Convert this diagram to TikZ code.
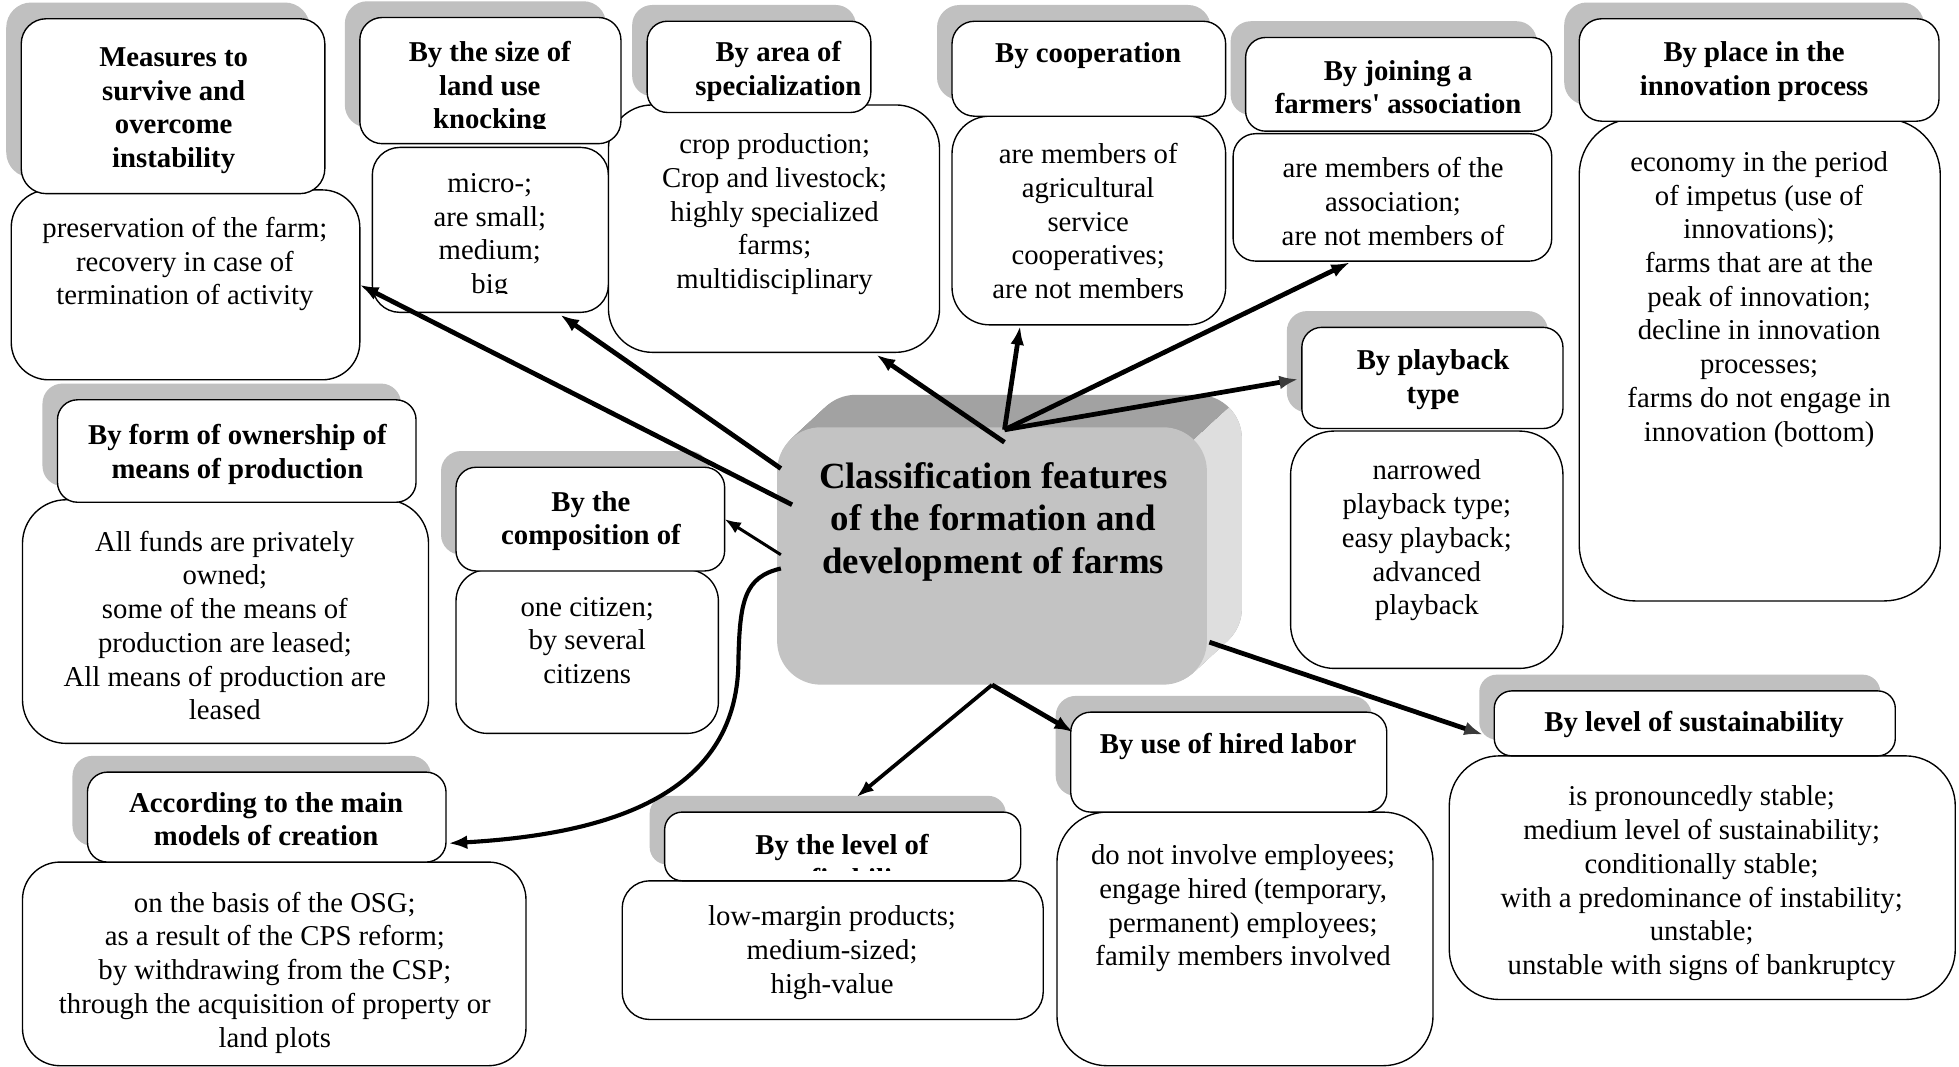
\documentclass[tikz,border=0pt]{standalone}
\usepackage{fontspec}
\setmainfont{Liberation Serif}
\usetikzlibrary{calc,arrows.meta}

\definecolor{shadegray}{HTML}{C0C0C0}
\definecolor{hubfront}{HTML}{C3C3C3}
\definecolor{hubtop}{HTML}{A2A2A2}
\definecolor{hubside}{HTML}{DEDEDE}
\definecolor{tipgray}{HTML}{3A3A3A}

\tikzset{
  card/.style={draw=black, fill=white, line width=1.1pt, inner sep=0pt, outer sep=0pt},
  headtxt/.style={anchor=north, inner sep=0pt, align=center, font=\bfseries\fontsize{23}{27}\selectfont},
  bodytxt/.style={anchor=north, inner sep=0pt, align=center, font=\fontsize{23}{27}\selectfont},
  titletxt/.style={anchor=north, inner sep=0pt, align=center, font=\bfseries\fontsize{29.5}{34}\selectfont},
  link/.style={line width=3.8pt, -{Latex[length=15pt,width=11pt]}},
  greylink/.style={line width=3.8pt, -{Latex[length=15pt,width=11pt,color=tipgray]}},
  curvelink/.style={line width=3.3pt, -{Latex[length=15pt,width=11pt]}},
  midlink/.style={line width=3pt, -{Latex[length=14pt,width=10pt]}},
  thinlink/.style={line width=2.4pt, -{Latex[length=13pt,width=10pt]}},
}

% rounded card: name, x1, y1, x2, y2, corner radius
\newcommand\cardbox[6]{%
  \node[card, rounded corners=#6pt, minimum width={(#4-#2)*1pt},
        minimum height={(#5-#3)*1pt}] (#1) at ({(#2+#4)/2},{(#3+#5)/2}) {};}
% grey offset shadow behind a heading card
\newcommand\cardshadow[5]{%
  \fill[shadegray, rounded corners=#5pt] ({#1-12},{#2-13}) rectangle ({#3-12},{#4-13});}

\begin{document}
\begin{tikzpicture}[x=1pt, y=-1pt]
\useasboundingbox (0,0) rectangle (1568,854);
\fill[white] (0,0) rectangle (1568,854);

% ---------- shadows of the heading cards ----------
\cardshadow{17}{15}{260}{155}{20}
\cardshadow{288}{14}{497}{115}{18}
\cardshadow{518}{17}{697}{90}{16}
\cardshadow{762}{17}{981}{93}{18}
\cardshadow{997}{30}{1242}{105}{16}
\cardshadow{1264}{15}{1552}{97}{18}
\cardshadow{1042}{262}{1251}{343}{16}
\cardshadow{46}{320}{333}{402}{16}
\cardshadow{365}{374}{580}{457}{16}
\cardshadow{70}{618}{357}{690}{16}
\cardshadow{532}{650}{817}{705}{14}
\cardshadow{857}{570}{1110}{650}{16}
\cardshadow{1196}{553}{1517}{605}{14}

% ---------- content cards ----------
\cardbox{mc}{9}{152}{288}{304}{30}
\cardbox{sc}{298}{118}{487}{250}{22}
\cardbox{ac}{487}{84}{752}{282}{35}
\cardbox{coc}{762}{93}{981}{260}{30}
\cardbox{jc}{987}{107}{1242}{209}{18}
\cardbox{ic}{1264}{95}{1553}{481}{45}
\cardbox{pc}{1033}{345}{1251}{535}{35}
\cardbox{oc}{18}{400}{343}{595}{35}
\cardbox{cpc}{365}{456}{575}{587}{25}
\cardbox{moc}{18}{690}{421}{853}{30}
\cardbox{lc}{498}{705}{835}{816}{22}
\cardbox{hc}{846}{650}{1147}{853}{40}
\cardbox{suc}{1160}{605}{1565}{800}{40}

% ---------- heading cards ----------
\cardbox{mh}{17}{15}{260}{155}{20}
\cardbox{sh}{288}{14}{497}{115}{18}
\cardbox{ah}{518}{17}{697}{90}{16}
\cardbox{coh}{762}{17}{981}{93}{18}
\cardbox{jh}{997}{30}{1242}{105}{16}
\cardbox{ih}{1264}{15}{1552}{97}{18}
\cardbox{ph}{1042}{262}{1251}{343}{16}
\cardbox{oh}{46}{320}{333}{402}{16}
\cardbox{cph}{365}{374}{580}{457}{16}
\cardbox{moh}{70}{618}{357}{690}{16}
\cardbox{lh}{532}{650}{817}{705}{14}
\cardbox{hh}{857}{570}{1110}{650}{16}
\cardbox{suh}{1196}{553}{1517}{605}{14}

% ---------- texts ----------
\node[headtxt] (mht) at (139,34) {\strut Measures to\\survive and\\overcome\\instability};
\node[bodytxt] (mct) at (148,171) {\strut preservation of the farm;\\recovery in case of\\termination of activity};

\begin{scope}
  \clip (288,14) rectangle (497,103);
  \node[headtxt] (sht) at (392,30) {\strut By the size of\\land use\\knocking};
\end{scope}
\begin{scope}
  \clip (298,118) rectangle (487,235);
  \node[bodytxt] (sct) at (392,135) {\strut micro-;\\are small;\\medium;\\big};
\end{scope}

\node[headtxt] (aht) at (623,30) {\strut By area of\\specialization};
\node[bodytxt] (act) at (620,104) {\strut crop production;\\Crop and livestock;\\highly specialized\\farms;\\multidisciplinary};

\node[headtxt] (coht) at (871,31) {\strut By cooperation};
\node[bodytxt] (coct) at (871,112) {\strut are members of\\agricultural\\service\\cooperatives;\\are not members};

\node[headtxt] (jht) at (1119,45) {\strut By joining a\\farmers\textquotesingle{} association};
\node[bodytxt] (jct) at (1115,123) {\strut are members of the\\association;\\are not members of};

\node[headtxt] (iht) at (1404,30) {\strut By place in the\\innovation process};
\node[bodytxt] (ict) at (1408,118) {\strut economy in the period\\of impetus (use of\\innovations);\\farms that are at the\\peak of innovation;\\decline in innovation\\processes;\\farms do not engage in\\innovation (bottom)};

\node[headtxt] (pht) at (1147,277) {\strut By playback\\type};
\node[bodytxt] (pct) at (1142,365) {\strut narrowed\\playback type;\\easy playback;\\advanced\\playback};

\node[headtxt] (oht) at (190,337) {\strut By form of ownership of\\means of production};
\node[bodytxt] (oct) at (180,422) {\strut All funds are privately\\owned;\\some of the means of\\production are leased;\\All means of production are\\leased};

\node[headtxt] (cpht) at (473,390) {\strut By the\\composition of};
\node[bodytxt] (cpct) at (470,474) {\strut one citizen;\\by several\\citizens};

\node[headtxt] (moht) at (213,631) {\strut According to the main\\models of creation};
\node[bodytxt] (moct) at (220,711) {\strut on the basis of the OSG;\\as a result of the CPS reform;\\by withdrawing from the CSP;\\through the acquisition of property or\\land plots};

\begin{scope}
  \clip (532,650) rectangle (817,697);
  \node[headtxt] (lht) at (674,665) {\strut By the level of\\profitability};
\end{scope}
\node[bodytxt] (lct) at (666,722) {\strut low-margin products;\\medium-sized;\\high-value};

\node[headtxt] (hht) at (983,584) {\strut By use of hired labor};
\node[bodytxt] (hct) at (995,673) {\strut do not involve employees;\\engage hired (temporary,\\permanent) employees;\\family members involved};

\node[headtxt] (suht) at (1356,566) {\strut By level of sustainability};
\node[bodytxt] (suct) at (1362,626) {\strut is pronouncedly stable;\\medium level of sustainability;\\conditionally stable;\\with a predominance of instability;\\unstable;\\unstable with signs of bankruptcy};

% ---------- central block with bevelled depth ----------
\foreach \k in {28,27,...,1} {
  \fill[hubtop, rounded corners=35pt] ({622+\k},{342-\k*26/28}) rectangle ({966+\k},{548-\k*26/28});
}
\begin{scope}
  \clip (900,404) -- (1012,300) -- (1100,300) -- (1100,600) -- (900,600) -- cycle;
  \foreach \k in {28,27,...,1} {
    \fill[hubside, rounded corners=35pt] ({622+\k},{342-\k*26/28}) rectangle ({966+\k},{548-\k*26/28});
  }
\end{scope}
\node[fill=hubfront, rounded corners=35pt, inner sep=0pt, minimum width=344pt,
      minimum height=206pt] (hub) at (794,445) {};
\node[titletxt] (hubt) at (795,367) {\strut Classification features\\of the formation and\\development of farms};

% ---------- connectors ----------
\coordinate (hubA) at (634,404);
\coordinate (hubB) at (625,375);
\coordinate (hubTop) at (804,344);
\coordinate (hubTopLow) at (804,354);
\coordinate (hubC) at (625,444);
\coordinate (hubD) at (625,455);
\coordinate (hubR) at (968,514);

\draw[link] (hubA) -- (mc.east);
\draw[link] (hubB) -- ($(sc.south)+(56,2)$);
\draw[link] (hubTopLow) -- ($(ac.south)+(82,2)$);
\draw[link] (hubTop) -- ($(coc.south)+(-55,1)$);
\draw[link] (hubTop) -- ($(jc.south)+(-34,1)$);
\draw[greylink] (hubTop) -- ($(ph.west)+(-3,1)$);
\draw[thinlink] (hubC) -- (cph.east);
\draw[curvelink]
  (hubD) .. controls (596,462) and (592,480) .. (591,530)
         .. controls (590,640) and (480,668) .. ($(moh.east)+(2,21)$);
\draw[midlink] (hub.south) -- ($(lh.north)+(11,-12)$);
\draw[link] (hub.south) -- ($(hh.north west)+(2,16)$);
\draw[greylink] (hubR) -- ($(suh.west)+(-9,9)$);
\end{tikzpicture}
\end{document}
